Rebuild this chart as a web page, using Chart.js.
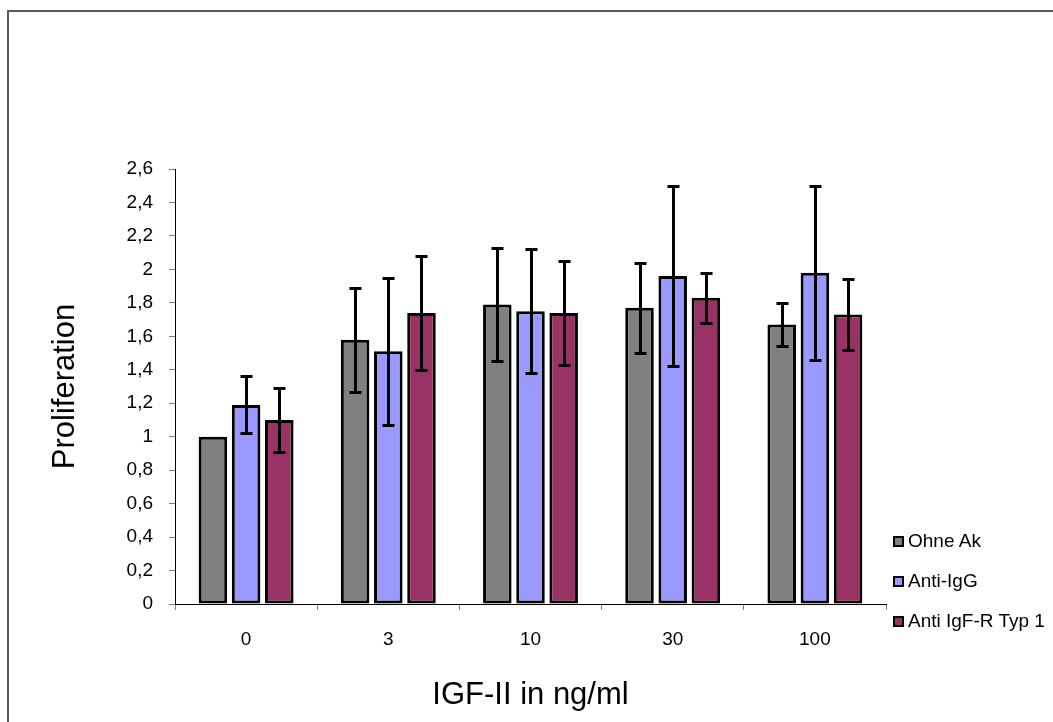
<!DOCTYPE html>
<html>
<head>
<meta charset="utf-8">
<title>Proliferation</title>
<script src="https://cdn.jsdelivr.net/npm/chart.js@4/dist/chart.umd.min.js"></script>
<style>
    html, body { margin: 0; padding: 0; background: #fff; }
    body { width: 1053px; height: 722px; position: relative; overflow: hidden; }
    #frame {
        position: absolute; left: 7px; top: 10px; width: 1100px; height: 800px;
        border-left: 2px solid #595959; border-top: 2px solid #595959;
    }
    #chart { position: absolute; left: 0; top: 0; }
    #legend {
        position: absolute; left: 893px; top: 521px;
        font-family: "Liberation Sans", Arial, sans-serif; font-size: 19px; color: #000;
    }
    #legend .item { height: 40px; display: flex; align-items: center; white-space: nowrap; }
    #legend .box {
        width: 11px; height: 11px; box-sizing: border-box;
        border: 2px solid #000; margin-right: 4px;
    }
</style>
</head>
<body>
<div id="frame"></div>
<canvas id="chart" width="1053" height="722"></canvas>
<div id="legend"></div>
<script>
// IGF-II concentrations (ng/ml)
const categories = ['0', '3', '10', '30', '100'];

const seriesNames = ['Ohne Ak', 'Anti-IgG', 'Anti IgF-R Typ 1'];
const seriesColors = ['#808080', '#9999FF', '#993366'];

// mean proliferation per series
const ohneAk     = [1.00, 1.58, 1.79, 1.77, 1.67];
const antiIgG    = [1.19, 1.51, 1.75, 1.96, 1.98];
const antiIgfR   = [1.10, 1.74, 1.74, 1.83, 1.73];

// +/- error per series
const ohneAkErr   = [0.00, 0.31, 0.34, 0.27, 0.13];
const antiIgGErr  = [0.17, 0.44, 0.37, 0.54, 0.52];
const antiIgfRErr = [0.19, 0.34, 0.31, 0.15, 0.21];

const seriesValues = [ohneAk, antiIgG, antiIgfR];
const seriesErrors = [ohneAkErr, antiIgGErr, antiIgfRErr];

const FONT = "'Liberation Sans', Arial, sans-serif";

// draws the black error whiskers on top of each bar
const errorBars = {
    id: 'errorBars',
    afterDatasetsDraw(chart) {
        const ctx = chart.ctx;
        const y = chart.scales.y;
        ctx.save();
        ctx.strokeStyle = '#000';
        ctx.lineWidth = 3;
        chart.data.datasets.forEach((ds, i) => {
            const meta = chart.getDatasetMeta(i);
            meta.data.forEach((bar, j) => {
                const err = ds.errors[j];
                if (!err) return;
                const v = ds.data[j];
                const top = Math.round(y.getPixelForValue(v + err)) + 0.5;
                const bot = Math.round(y.getPixelForValue(v - err)) + 0.5;
                const x = Math.round(bar.x) + 0.5;
                ctx.beginPath();
                ctx.moveTo(x, top); ctx.lineTo(x, bot);
                ctx.moveTo(x - 6, top); ctx.lineTo(x + 6, top);
                ctx.moveTo(x - 6, bot); ctx.lineTo(x + 6, bot);
                ctx.stroke();
            });
        });
        ctx.restore();
    }
};

const datasets = seriesNames.map((name, i) => ({
    label: name,
    data: seriesValues[i],
    errors: seriesErrors[i],
    backgroundColor: seriesColors[i],
    borderColor: '#000',
    borderWidth: 3,
    borderSkipped: false,
    barPercentage: 0.86,
    categoryPercentage: 0.7,
}));

const chart = new Chart(document.getElementById('chart'), {
    type: 'bar',
    data: { labels: categories, datasets },
    options: {
        responsive: false,
        animation: false,
        layout: { padding: { left: 0, top: 169, right: 167, bottom: 0 } },
        plugins: {
            legend: { display: false },
            tooltip: { enabled: false },
        },
        scales: {
            x: {
                grid: { drawOnChartArea: false, color: '#808080', tickLength: 6, offset: true },
                border: { color: '#000', width: 1 },
                ticks: { color: '#000', font: { family: FONT, size: 19 }, padding: 18, maxRotation: 0 },
                title: {
                    display: true, text: 'IGF-II in ng/ml', color: '#000',
                    font: { family: FONT, size: 31 }, padding: { top: 0, bottom: 8 },
                },
                afterFit(scale) { scale.height = 118; },
            },
            y: {
                min: 0, max: 2.6,
                grid: { drawOnChartArea: false, color: '#808080', tickLength: 6 },
                border: { color: '#000', width: 1 },
                ticks: {
                    stepSize: 0.2, color: '#000', font: { family: FONT, size: 19 }, padding: 16,
                    callback: v => String(Number(v.toFixed(1))).replace('.', ','),
                },
                title: {
                    display: true, text: 'Proliferation', color: '#000',
                    font: { family: FONT, size: 31 }, padding: { top: 47, bottom: 0 },
                },
                afterFit(scale) { scale.width = 175; },
            },
        },
    },
    plugins: [errorBars],
});

// legend column built from the chart's own datasets
const legendEl = document.getElementById('legend');
chart.data.datasets.forEach(ds => {
    const item = document.createElement('div');
    item.className = 'item';
    const box = document.createElement('span');
    box.className = 'box';
    box.style.background = ds.backgroundColor;
    const label = document.createElement('span');
    label.textContent = ds.label;
    item.appendChild(box);
    item.appendChild(label);
    legendEl.appendChild(item);
});
</script>
</body>
</html>
